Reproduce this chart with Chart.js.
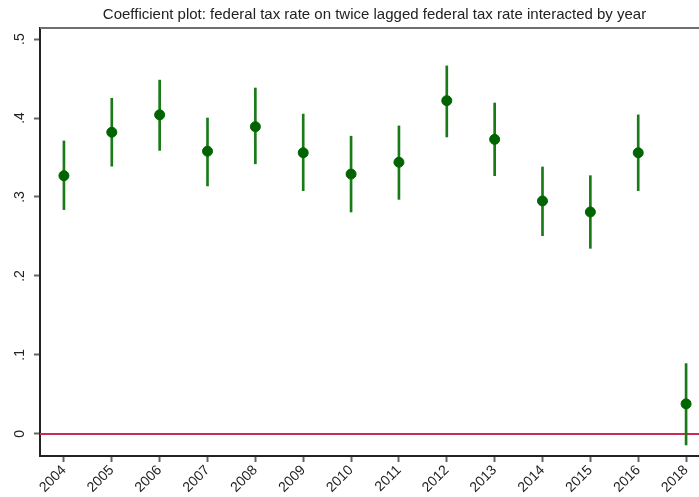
<!DOCTYPE html>
<html lang="en">
<head>
  <meta charset="UTF-8" />
  <title>Coefficient plot</title>
  <script src="https://cdn.jsdelivr.net/npm/chart.js"></script>
  <style>
    html, body {
      margin: 0;
      padding: 0;
      background: #fff;
    }
    #wrap {
      width: 699px;
      height: 497px;
    }
  </style>
</head>
<body>
  <div id="wrap"><canvas id="coefChart" width="699" height="497"></canvas></div>

  <script>
    const titleText = "Coefficient plot: federal tax rate on twice lagged federal tax rate interacted by year";

    const years = ["2004", "2005", "2006", "2007", "2008", "2009", "2010", "2011", "2012", "2013", "2014", "2015", "2016", "2018"];
    const coef = [0.327, 0.382, 0.404, 0.358, 0.389, 0.356, 0.329, 0.344, 0.422, 0.373, 0.295, 0.281, 0.356, 0.038];
    const ciLow = [0.284, 0.339, 0.359, 0.314, 0.342, 0.308, 0.281, 0.297, 0.376, 0.327, 0.251, 0.235, 0.308, -0.014];
    const ciHigh = [0.371, 0.425, 0.448, 0.400, 0.438, 0.405, 0.377, 0.390, 0.466, 0.419, 0.338, 0.327, 0.404, 0.089];

    const yTicks = [0, 0.1, 0.2, 0.3, 0.4, 0.5];
    const yTickLabels = ["0", ".1", ".2", ".3", ".4", ".5"];
    const refLine = 0;

    const fontFamily = "'Liberation Sans', Arial, Helvetica, sans-serif";

    // stretch plot area to the right edge (chart.js keeps a few px for the last label)
    const fullWidth = {
      id: "fullWidth",
      afterLayout(chart) {
        const x = chart.scales.x;
        const area = chart.chartArea;
        area.right = chart.width;
        area.width = area.right - area.left;
        x.right = chart.width;
        x.width = x.right - x.left;
        x.configure();
      }
    };

    // title, top border and vertical y labels (stata style)
    const extras = {
      id: "extras",
      afterDraw(chart) {
        const ctx = chart.ctx;
        const area = chart.chartArea;
        const y = chart.scales.y;
        ctx.save();
        ctx.strokeStyle = "#6e6e6e";
        ctx.lineWidth = 2;
        ctx.beginPath();
        ctx.moveTo(area.left, area.top);
        ctx.lineTo(area.right, area.top);
        ctx.stroke();

        ctx.fillStyle = "#222";
        ctx.font = "15px " + fontFamily;
        ctx.textAlign = "center";
        ctx.textBaseline = "middle";
        ctx.fillText(titleText, (area.left + area.right) / 2 + 5, 15);

        ctx.font = "14px " + fontFamily;
        yTicks.forEach((v, i) => {
          const py = y.getPixelForValue(v);
          ctx.save();
          ctx.translate(20, py);
          ctx.rotate(-Math.PI / 2);
          ctx.fillText(yTickLabels[i], 0, 0);
          ctx.restore();
        });
        ctx.restore();
      }
    };

    const xMin = -0.5;
    const xMax = years.length - 1 + 0.27;

    new Chart(document.getElementById("coefChart"), {
      type: "scatter",
      data: {
        datasets: [
          {
            type: "scatter",
            data: coef.map((v, i) => ({ x: i, y: v })),
            backgroundColor: "#006400",
            borderColor: "#006400",
            pointRadius: 5,
            order: 1
          },
          {
            type: "bar",
            data: years.map((_, i) => ({ x: i, y: [ciLow[i], ciHigh[i]] })),
            backgroundColor: "#197a19",
            barThickness: 2,
            order: 2
          },
          {
            type: "line",
            data: [{ x: xMin, y: refLine }, { x: xMax, y: refLine }],
            borderColor: "#cc2a52",
            borderWidth: 2,
            pointRadius: 0,
            order: 3
          }
        ]
      },
      options: {
        responsive: false,
        animation: false,
        layout: { padding: { top: 28, right: 0, left: 0, bottom: 0 } },
        plugins: {
          legend: { display: false },
          tooltip: { enabled: false },
          title: { display: false }
        },
        scales: {
          x: {
            type: "linear",
            offset: false,
            min: xMin,
            max: xMax,
            afterBuildTicks: (s) => { s.ticks = years.map((_, i) => ({ value: i })); },
            afterFit: (s) => { s.height = 41; },
            ticks: {
              callback: (v) => years[v],
              minRotation: 45,
              maxRotation: 45,
              autoSkip: false,
              color: "#222",
              font: { family: fontFamily, size: 14 },
              padding: 0
            },
            grid: { drawOnChartArea: false, tickLength: 6, color: "#666", tickWidth: 2, offset: false },
            border: { color: "#222", width: 2 }
          },
          y: {
            type: "linear",
            min: -0.028,
            max: 0.514,
            afterBuildTicks: (s) => { s.ticks = yTicks.map((v) => ({ value: v })); },
            afterFit: (s) => { s.width = 40; },
            ticks: { display: false },
            grid: { drawOnChartArea: false, tickLength: 6, color: "#666", tickWidth: 2 },
            border: { color: "#222", width: 2 }
          }
        }
      },
      plugins: [fullWidth, extras]
    });
  </script>
</body>
</html>
